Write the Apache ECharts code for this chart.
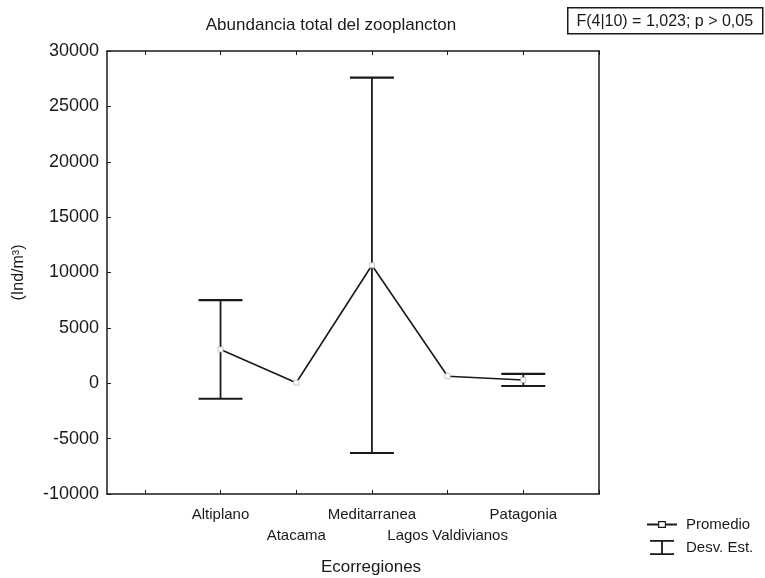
<!DOCTYPE html>
<html>
<head>
<meta charset="utf-8">
<script src="https://cdn.jsdelivr.net/npm/echarts@6/dist/echarts.min.js"></script>
<style>
  html, body { margin: 0; padding: 0; background: #fff; }
  #chart { width: 765px; height: 578px; }
</style>
</head>
<body>
<div id="chart"></div>
<script>
// Ecoregions (x positions 1..5 on a value axis)
const categories = ['Altiplano', 'Atacama', 'Meditarranea', 'Lagos Valdivianos', 'Patagonia'];
// Mean abundance (Ind/m3) per ecoregion
const means = [3050, 50, 10650, 630, 300];
// Standard deviation per ecoregion
const stdDevs = [4450, 0, 16950, 0, 550];
const yTicks = [-10000, -5000, 0, 5000, 10000, 15000, 20000, 25000, 30000];

const FONT = 'Liberation Sans, Arial, sans-serif';
const INK = '#1a1a1a';

const meanData = categories.map((c, i) => [i + 1, means[i]]);
const errData = categories.map((c, i) => [i + 1, means[i] - stdDevs[i], means[i] + stdDevs[i]]);
// Category labels are staggered over two rows
const rowOne = categories.map((c, i) => i + 1).filter(v => v % 2 === 1);
const rowTwo = categories.map((c, i) => i + 1).filter(v => v % 2 === 0);
const catLabel = v => categories[Math.round(v) - 1];

const chart = echarts.init(document.getElementById('chart'), null, { renderer: 'canvas' });

const xRange = { type: 'value', min: -0.5, max: 6, splitLine: { show: false } };

const option = {
  backgroundColor: '#fff',
  animation: false,
  title: {
    text: 'Abundancia total del zooplancton',
    left: 326, top: 12, textAlign: 'center',
    textStyle: { fontFamily: FONT, fontSize: 17, fontWeight: 'normal', color: INK }
  },
  legend: {
    orient: 'vertical',
    left: 642, top: 512,
    itemWidth: 30, itemHeight: 15, itemGap: 8,
    textStyle: { fontFamily: FONT, fontSize: 15, color: INK, padding: [0, 0, 0, 4] },
    data: [
      {
        name: 'Promedio',
        icon: 'path://M0,6.5H11V8.5H0Z M19,6.5H30V8.5H19Z M11,4H19V11H11Z M12.2,5.2V9.8H17.8V5.2Z',
        itemStyle: { color: INK, borderWidth: 0 }
      },
      {
        name: 'Desv. Est.',
        icon: 'path://M3,0H27V1.8H15.9V13.2H27V15H3V13.2H14.1V1.8H3Z',
        itemStyle: { color: INK, borderWidth: 0 }
      }
    ]
  },
  grid: { left: 107, right: 166, top: 51, bottom: 84, outerBoundsMode: 'none', containLabel: false },
  xAxis: [
    Object.assign({}, xRange, {
      position: 'bottom',
      name: 'Ecorregiones', nameLocation: 'middle', nameGap: 65,
      nameTextStyle: { fontFamily: FONT, fontSize: 17, color: INK, padding: [0, 0, 0, 36] },
      axisLine: { onZero: false, lineStyle: { color: INK, width: 1.5 } },
      axisTick: { inside: true, length: 4, customValues: [0, 1, 2, 3, 4, 5, 6], lineStyle: { color: INK } },
      axisLabel: {
        customValues: rowOne, margin: 13, hideOverlap: false,
        fontFamily: FONT, fontSize: 15, color: INK, formatter: catLabel
      }
    }),
    Object.assign({}, xRange, {
      position: 'bottom',
      axisLine: { show: false, onZero: false },
      axisTick: { show: false },
      axisLabel: {
        customValues: rowTwo, margin: 34, hideOverlap: false,
        fontFamily: FONT, fontSize: 15, color: INK, formatter: catLabel
      }
    }),
    Object.assign({}, xRange, {
      position: 'top',
      axisLine: { onZero: false, lineStyle: { color: INK, width: 1.5 } },
      axisTick: { inside: true, length: 4, customValues: [0, 1, 2, 3, 4, 5, 6], lineStyle: { color: INK } },
      axisLabel: { show: false }
    })
  ],
  yAxis: [
    {
      type: 'value', min: -10000, max: 30000, interval: 5000, position: 'left',
      name: '(Ind/m³)', nameLocation: 'middle', nameGap: 80, nameRotate: 90,
      nameTextStyle: { fontFamily: FONT, fontSize: 16, color: INK },
      axisLine: { show: true, onZero: false, lineStyle: { color: INK, width: 1.5 } },
      axisTick: { show: true, inside: true, length: 4, lineStyle: { color: INK } },
      axisLabel: { fontFamily: FONT, fontSize: 18, color: INK, margin: 8, formatter: v => String(v) },
      splitLine: { show: false }
    },
    {
      type: 'value', min: -10000, max: 30000, interval: 5000, position: 'right',
      axisLine: { show: true, onZero: false, lineStyle: { color: INK, width: 1.5 } },
      axisTick: { show: false },
      axisLabel: { show: false },
      splitLine: { show: false }
    }
  ],
  series: [
    {
      name: 'Desv. Est.',
      type: 'custom',
      data: errData,
      z: 3,
      renderItem: (params, api) => {
        const x = api.value(0);
        const lo = api.coord([x, api.value(1)]);
        const hi = api.coord([x, api.value(2)]);
        if (Math.abs(hi[1] - lo[1]) < 1) return null;
        const half = 22;
        const style = { stroke: INK, lineWidth: 2.2 };
        return {
          type: 'group',
          children: [
            { type: 'line', shape: { x1: lo[0], y1: lo[1], x2: hi[0], y2: hi[1] }, style: { stroke: INK, lineWidth: 1.8 } },
            { type: 'line', shape: { x1: lo[0] - half, y1: lo[1], x2: lo[0] + half, y2: lo[1] }, style },
            { type: 'line', shape: { x1: hi[0] - half, y1: hi[1], x2: hi[0] + half, y2: hi[1] }, style }
          ]
        };
      },
      itemStyle: { color: INK }
    },
    {
      name: 'Promedio',
      type: 'line',
      data: meanData,
      z: 4,
      symbol: 'rect', symbolSize: 5,
      lineStyle: { color: INK, width: 1.6 },
      itemStyle: { color: '#fff', borderColor: '#bbb', borderWidth: 0.8 }
    }
  ],
  graphic: [
    {
      type: 'group', left: 567, top: 7,
      children: [
        { type: 'rect', shape: { x: 0, y: 0, width: 195, height: 26 }, style: { fill: '#fff', stroke: INK, lineWidth: 1.5 } },
        { type: 'text', x: 97, y: 14, style: { text: 'F(4|10) = 1,023; p > 0,05', fontFamily: FONT, fontSize: 16, fill: INK, align: 'center', verticalAlign: 'middle' } }
      ]
    }
  ]
};

chart.setOption(option);
</script>
</body>
</html>
